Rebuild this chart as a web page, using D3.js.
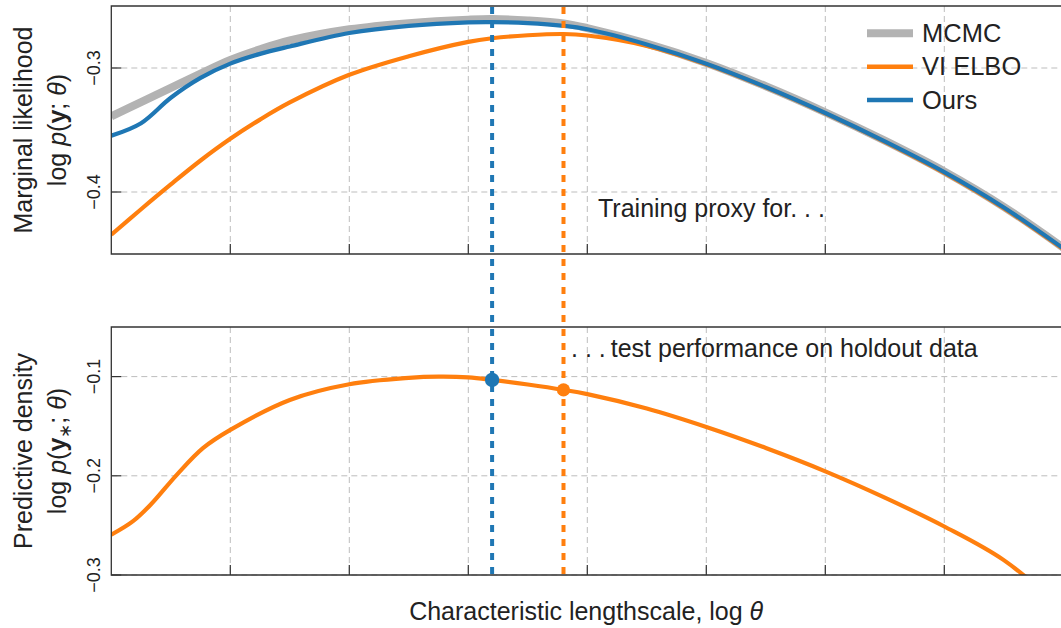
<!DOCTYPE html>
<html>
<head>
<meta charset="utf-8">
<script src="https://cdn.jsdelivr.net/npm/d3@7"></script>
<style>
  html, body { margin: 0; padding: 0; background: #fff; }
  svg { display: block; font-family: "Liberation Sans", Arial, sans-serif; }
</style>
</head>
<body>
<svg id="chart" width="1061" height="628"></svg>
<script>
// ---- data ----------------------------------------------------------------
// log lengthscale positions (one unit per grid line)
const xMarginal = [0, 0.25, 0.5, 0.75, 1, 1.25, 1.5, 2, 2.5, 3, 3.2, 3.5, 3.8, 4, 4.5, 5, 5.5, 6, 6.5, 7, 7.5, 8];
const mcmc   = [-0.3390, -0.3275, -0.3160, -0.3045, -0.2935, -0.2849, -0.2778, -0.2688, -0.2638, -0.2610, -0.2605, -0.2616, -0.2640, -0.2678, -0.2803, -0.2959, -0.3147, -0.3357, -0.3586, -0.3834, -0.4119, -0.4449];
const viElbo = [-0.4344, -0.4139, -0.3939, -0.3746, -0.3571, -0.3416, -0.3278, -0.3055, -0.2905, -0.2789, -0.2760, -0.2736, -0.2726, -0.2738, -0.2822, -0.2970, -0.3156, -0.3366, -0.3595, -0.3846, -0.4131, -0.4461];
const ours   = [-0.3546, -0.3445, -0.3240, -0.3080, -0.2965, -0.2886, -0.2826, -0.2718, -0.2660, -0.2632, -0.2630, -0.2638, -0.2660, -0.2688, -0.2810, -0.2965, -0.3153, -0.3363, -0.3592, -0.3840, -0.4125, -0.4455];

const xPredictive = [0, 0.18, 0.33, 0.55, 0.77, 1, 1.5, 2, 2.5, 2.75, 3, 3.2, 3.5, 3.8, 4, 4.5, 5, 5.5, 6, 6.5, 7, 7.5, 8];
const predictive  = [-0.2594, -0.2460, -0.2292, -0.1990, -0.1721, -0.1537, -0.1235, -0.1077, -0.1013, -0.1001, -0.1008, -0.1033, -0.1080, -0.1134, -0.1177, -0.1322, -0.1508, -0.1720, -0.1955, -0.2220, -0.2511, -0.2850, -0.3350];

// selected lengthscales (argmax of each training objective)
const selectedNames = ["Ours", "VI ELBO"];
const selectedX     = [3.2, 3.8];

const xTicks = [1, 2, 3, 4, 5, 6, 7];
const yTicksMarginal   = [-0.4, -0.3];
const yTicksPredictive = [-0.3, -0.2, -0.1];

const seriesNames = ["MCMC", "VI ELBO", "Ours"];

// ---- styles ----------------------------------------------------------------
const colors = { "MCMC": "#b3b3b3", "VI ELBO": "#ff7f0e", "Ours": "#1f77b4" };
const widths = { "MCMC": 8, "VI ELBO": 4.2, "Ours": 4.2 };

const svg = d3.select("#chart");
const left = 111.3, right = 111.3 + 8 * 119;
const top1 = 6, bot1 = 254, top2 = 327, bot2 = 575;

const x = d3.scaleLinear().domain([0, 8]).range([left, right]);
const yTop = d3.scaleLinear().domain([-0.45, -0.25]).range([bot1, top1]);
const yBot = d3.scaleLinear().domain([-0.3, -0.05]).range([bot2, top2]);

const defs = svg.append("defs");
defs.append("clipPath").attr("id", "clipTop").append("rect")
  .attr("x", left).attr("y", top1).attr("width", right - left).attr("height", bot1 - top1);
defs.append("clipPath").attr("id", "clipBot").append("rect")
  .attr("x", left).attr("y", top2).attr("width", right - left).attr("height", bot2 - top2);

const fmt = d => d3.format(".1f")(d).replace("-", "\u2212");

function panel(y, yTicks, top, bot) {
  const g = svg.append("g");
  // dashed grid
  g.selectAll(".vg").data(xTicks).join("line")
    .attr("x1", d => x(d)).attr("x2", d => x(d)).attr("y1", top).attr("y2", bot)
    .attr("stroke", "#bdbdbd").attr("stroke-width", 1).attr("stroke-dasharray", "6,4");
  g.selectAll(".hg").data(yTicks).join("line")
    .attr("x1", left).attr("x2", right).attr("y1", d => y(d)).attr("y2", d => y(d))
    .attr("stroke", "#bdbdbd").attr("stroke-width", 1).attr("stroke-dasharray", "6,4");
  return g;
}

function frame(y, yTicks, top, bot) {
  const g = svg.append("g");
  // inward ticks
  g.selectAll(".xt").data(xTicks).join("line")
    .attr("x1", d => x(d)).attr("x2", d => x(d)).attr("y1", bot).attr("y2", bot - 10)
    .attr("stroke", "#333").attr("stroke-width", 1.2);
  g.selectAll(".yt").data(yTicks).join("line")
    .attr("x1", left).attr("x2", left + 10).attr("y1", d => y(d)).attr("y2", d => y(d))
    .attr("stroke", "#333").attr("stroke-width", 1.2);
  // spines
  g.append("path")
    .attr("d", `M${right},${top}H${left}V${bot}H${right}`)
    .attr("fill", "none").attr("stroke", "#333").attr("stroke-width", 1.3);
  // tick labels, rotated
  g.selectAll(".yl").data(yTicks).join("text")
    .attr("transform", d => `translate(100,${y(d)}) rotate(-90)`)
    .attr("text-anchor", "middle")
    .attr("font-size", 18).attr("fill", "#222")
    .text(fmt);
}

panel(yTop, yTicksMarginal, top1, bot1);
panel(yBot, yTicksPredictive, top2, bot2);

// marginal likelihood curves
const smooth = d3.curveCatmullRom.alpha(0.5);
const lineTop = d3.line().x(d => x(d[0])).y(d => yTop(d[1])).curve(smooth);
const topSeries = { "MCMC": mcmc, "VI ELBO": viElbo, "Ours": ours };
const gTop = svg.append("g").attr("clip-path", "url(#clipTop)");
seriesNames.forEach(name => {
  gTop.append("path")
    .datum(xMarginal.map((v, i) => [v, topSeries[name][i]]))
    .attr("d", lineTop)
    .attr("fill", "none")
    .attr("stroke", colors[name])
    .attr("stroke-width", widths[name])
    .attr("stroke-linejoin", "round");
});

// predictive density curve
const lineBot = d3.line().x(d => x(d[0])).y(d => yBot(d[1])).curve(smooth);
svg.append("g").attr("clip-path", "url(#clipBot)")
  .append("path")
  .datum(xPredictive.map((v, i) => [v, predictive[i]]))
  .attr("d", lineBot)
  .attr("fill", "none")
  .attr("stroke", colors["VI ELBO"])
  .attr("stroke-width", 4.2)
  .attr("stroke-linejoin", "round");

frame(yTop, yTicksMarginal, top1, bot1);
frame(yBot, yTicksPredictive, top2, bot2);

// selected lengthscales spanning both panels
svg.selectAll(".sel").data(selectedNames).join("line")
  .attr("x1", (d, i) => x(selectedX[i])).attr("x2", (d, i) => x(selectedX[i]))
  .attr("y1", top1 + 1).attr("y2", bot2)
  .attr("stroke", d => colors[d]).attr("stroke-width", 4)
  .attr("stroke-dasharray", "7,7");

// held-out score at each selected lengthscale
svg.selectAll(".dot").data(selectedNames).join("circle")
  .attr("cx", (d, i) => x(selectedX[i]))
  .attr("cy", (d, i) => yBot(predictive[xPredictive.indexOf(selectedX[i])]))
  .attr("r", (d, i) => i === 0 ? 7.2 : 6.6)
  .attr("fill", d => colors[d]);

// legend
const leg = svg.append("g");
seriesNames.forEach((name, i) => {
  const ly = 33.3 + i * 33.4;
  leg.append("line").attr("x1", 867).attr("x2", 913).attr("y1", ly).attr("y2", ly)
    .attr("stroke", colors[name]).attr("stroke-width", name === "MCMC" ? 8 : 4.5);
  leg.append("text").attr("x", 922).attr("y", ly + 8.7)
    .attr("font-size", 25.5).attr("fill", "#222").text(name);
});

// annotations
svg.append("text").attr("x", 598).attr("y", 217).attr("font-size", 25).attr("fill", "#222")
  .text("Training proxy for. . .");
svg.append("text").attr("x", 571).attr("y", 357).attr("font-size", 25).attr("fill", "#222")
  .text(". . .\u2009test performance on holdout data");

// axis titles
function yTitle(cy, line1, build) {
  svg.append("text").attr("transform", `translate(32,${cy}) rotate(-90)`)
    .attr("text-anchor", "middle").attr("font-size", 25).attr("fill", "#222").text(line1);
  const t = svg.append("text").attr("transform", `translate(66,${cy}) rotate(-90)`)
    .attr("text-anchor", "middle").attr("font-size", 25).attr("fill", "#222");
  build(t);
}
yTitle((top1 + bot1) / 2, "Marginal likelihood", t => {
  t.append("tspan").text("log ");
  t.append("tspan").attr("font-style", "italic").text("p");
  t.append("tspan").text("(");
  t.append("tspan").attr("font-weight", "bold").text("y");
  t.append("tspan").text("; ");
  t.append("tspan").attr("font-style", "italic").text("θ");
  t.append("tspan").text(")");
});
yTitle((top2 + bot2) / 2, "Predictive density", t => {
  t.append("tspan").text("log ");
  t.append("tspan").attr("font-style", "italic").text("p");
  t.append("tspan").text("(");
  t.append("tspan").attr("font-weight", "bold").text("y");
  t.append("tspan").attr("font-size", 17).attr("dy", 5).text("∗");
  t.append("tspan").attr("dy", -5).text("; ");
  t.append("tspan").attr("font-style", "italic").text("θ");
  t.append("tspan").text(")");
});

const xt = svg.append("text").attr("x", (left + 1061) / 2).attr("y", 620)
  .attr("text-anchor", "middle").attr("font-size", 25).attr("fill", "#222");
xt.append("tspan").text("Characteristic lengthscale, log ");
xt.append("tspan").attr("font-style", "italic").text("θ");
</script>
</body>
</html>
